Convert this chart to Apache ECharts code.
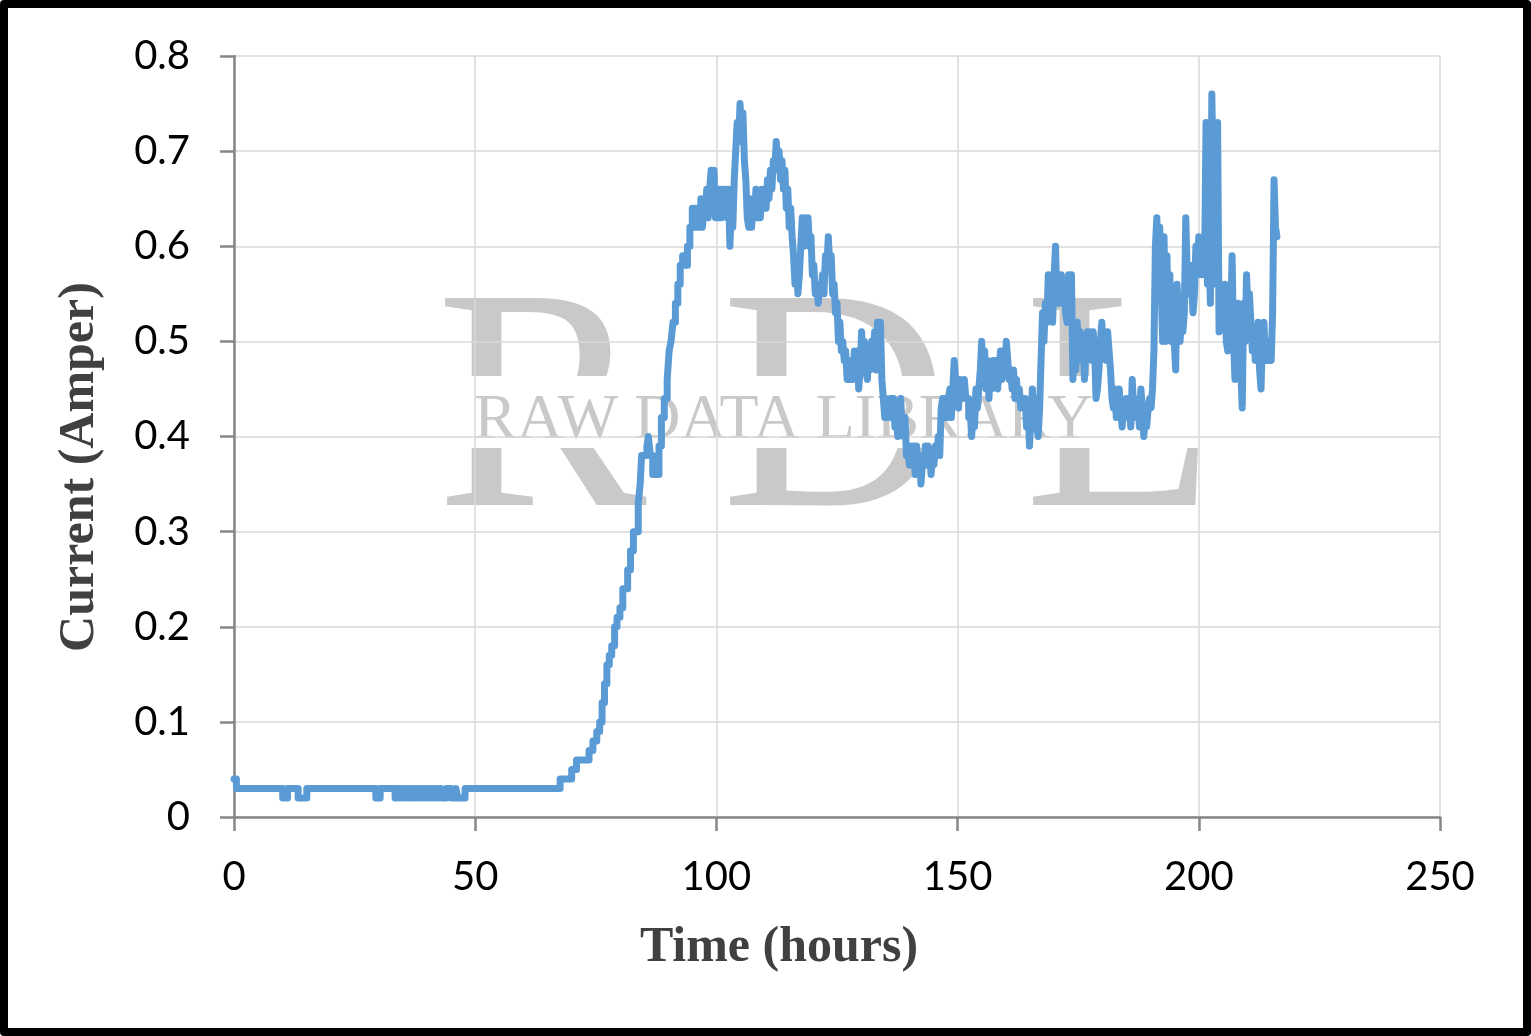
<!DOCTYPE html>
<html>
<head>
<meta charset="utf-8">
<script src="https://cdn.jsdelivr.net/npm/echarts@6/dist/echarts.min.js"></script>
<style>
html,body{margin:0;padding:0;background:#fff;}
#chart{position:absolute;left:0;top:0;width:1531px;height:1036px;}
#frame{position:absolute;left:0;top:0;width:1531px;height:1036px;box-sizing:border-box;border:8px solid #000;border-radius:4px;pointer-events:none;}
</style>
</head>
<body>
<div id="chart"></div>
<div id="frame"></div>
<script>
// ---- data ----
const xAxisTicks = [0, 50, 100, 150, 200, 250];
const yAxisTicks = [0, 0.1, 0.2, 0.3, 0.4, 0.5, 0.6, 0.7, 0.8];
const xTitle = 'Time (hours)';
const yTitle = 'Current (Amper)';

// early phase: baseline and rise (hours)
const timeEarly = [
  0, 0.5, 10.1, 11.1, 13.3, 15.1, 29.4, 30.3,
  33.4, 33.8, 34.1, 34.5, 34.8, 35.2, 35.5, 35.9, 36.2, 36.6, 36.9, 37.3, 37.6, 38.0,
  38.3, 38.7, 39.0, 39.4, 39.7, 40.1, 40.4, 40.8, 41.1, 41.5, 41.8, 42.2, 42.5, 42.9,
  43.2, 43.6, 44.0, 45.0, 46.0, 46.4, 47.9,
  67.6, 70.0, 71.0, 73.6, 74.4, 75.2, 75.8, 76.3, 76.8, 77.3, 77.8, 78.3, 78.9, 79.4,
  80.0, 80.6, 81.6, 82.2, 82.8, 83.8, 84.2, 84.5, 85.6, 85.9, 86.3, 86.8, 88.1,
  88.6, 89.2, 89.8, 90.2, 90.6, 91.0, 91.5, 92.0, 92.5, 93.0, 93.5, 94.0, 94.5
];
const currentEarly = [
  0.04, 0.03, 0.02, 0.03, 0.02, 0.03, 0.02, 0.03,
  0.02, 0.03, 0.02, 0.03, 0.02, 0.03, 0.02, 0.03, 0.02, 0.03, 0.02, 0.03, 0.02, 0.03,
  0.02, 0.03, 0.02, 0.03, 0.02, 0.03, 0.02, 0.03, 0.02, 0.03, 0.02, 0.03, 0.02, 0.03,
  0.02, 0.02, 0.03, 0.02, 0.03, 0.02, 0.03,
  0.04, 0.05, 0.06, 0.07, 0.08, 0.09, 0.10, 0.12, 0.14, 0.16, 0.17, 0.18, 0.20, 0.21,
  0.22, 0.24, 0.26, 0.28, 0.30, 0.33, 0.35, 0.38, 0.39, 0.40, 0.38, 0.36, 0.39,
  0.42, 0.44, 0.46, 0.49, 0.50, 0.52, 0.54, 0.56, 0.58, 0.59, 0.58, 0.60, 0.62
];

// noisy phase (hours), rows of 10 samples
const timeLate = [
  95.0, 95.3, 95.6, 95.9, 96.2, 96.5, 96.8, 97.1, 97.4, 97.7,
  98.0, 98.3, 98.6, 98.9, 99.2, 99.5, 99.8, 100.1, 100.4, 100.7,
  101.0, 101.3, 101.6, 101.9, 102.2, 102.5, 102.8, 103.1, 103.4, 103.7,
  104.0, 104.3, 104.6, 104.9, 105.2, 105.5, 105.8, 106.1, 106.4, 106.7,
  107.0, 107.3, 107.6, 107.9, 108.2, 108.5, 108.8, 109.1, 109.4, 109.7,
  110.0, 110.3, 110.6, 110.9, 111.2, 111.5, 111.8, 112.1, 112.4, 112.7,
  113.0, 113.3, 113.6, 113.9, 114.2, 114.5, 114.8, 115.1, 115.4, 115.7,
  116.0, 116.3, 116.6, 116.9, 117.2, 117.5, 117.8, 118.1, 118.4, 118.7,
  119.0, 119.3, 119.6, 119.9, 120.2, 120.5, 120.8, 121.1, 121.4, 121.7,
  122.0, 122.3, 122.6, 122.9, 123.2, 123.5, 123.8, 124.1, 124.4, 124.7,
  125.0, 125.3, 125.6, 125.9, 126.2, 126.5, 126.8, 127.1, 127.4, 127.7,
  128.0, 128.3, 128.6, 128.9, 129.2, 129.5, 129.8, 130.1, 130.4, 130.7,
  131.0, 131.3, 131.6, 131.9, 132.2, 132.5, 132.8, 133.1, 133.4, 133.7,
  134.0, 134.3, 134.6, 134.9, 135.2, 135.5, 135.8, 136.1, 136.4, 136.7,
  137.0, 137.3, 137.6, 137.9, 138.2, 138.5, 138.8, 139.1, 139.4, 139.7,
  140.0, 140.3, 140.6, 140.9, 141.2, 141.5, 141.8, 142.1, 142.4, 142.7,
  143.0, 143.3, 143.6, 143.9, 144.2, 144.5, 144.8, 145.1, 145.4, 145.7,
  146.0, 146.3, 146.6, 146.9, 147.2, 147.5, 147.8, 148.1, 148.4, 148.7,
  149.0, 149.3, 149.6, 149.9, 150.2, 150.5, 150.8, 151.1, 151.4, 151.7,
  152.0, 152.3, 152.6, 152.9, 153.2, 153.5, 153.8, 154.1, 154.4, 154.7,
  155.0, 155.3, 155.6, 155.9, 156.2, 156.5, 156.8, 157.1, 157.4, 157.7,
  158.0, 158.3, 158.6, 158.9, 159.2, 159.5, 159.8, 160.1, 160.4, 160.7,
  161.0, 161.3, 161.6, 161.9, 162.2, 162.5, 162.8, 163.1, 163.4, 163.7,
  164.0, 164.3, 164.6, 164.9, 165.2, 165.5, 165.8, 166.1, 166.4, 166.7,
  167.0, 167.3, 167.6, 167.9, 168.2, 168.5, 168.8, 169.1, 169.4, 169.7,
  170.0, 170.3, 170.6, 170.9, 171.2, 171.5, 171.8, 172.1, 172.4, 172.7,
  173.0, 173.3, 173.6, 173.9, 174.2, 174.5, 174.8, 175.1, 175.4, 175.7,
  176.0, 176.3, 176.6, 176.9, 177.2, 177.5, 177.8, 178.1, 178.4, 178.7,
  179.0, 179.3, 179.6, 179.9, 180.2, 180.5, 180.8, 181.1, 181.4, 181.7,
  182.0, 182.3, 182.6, 182.9, 183.2, 183.5, 183.8, 184.1, 184.4, 184.7,
  185.0, 185.3, 185.6, 185.9, 186.2, 186.5, 186.8, 187.1, 187.4, 187.7,
  188.0, 188.3, 188.6, 188.9, 189.2, 189.5, 189.8, 190.1, 190.4, 190.7,
  191.0, 191.3, 191.6, 191.9, 192.2, 192.5, 192.8, 193.1, 193.4, 193.7,
  194.0, 194.3, 194.6, 194.9, 195.2, 195.5, 195.8, 196.1, 196.4, 196.7,
  197.0, 197.3, 197.6, 197.9, 198.2, 198.5, 198.8, 199.1, 199.4, 199.7,
  200.0, 200.3, 200.6, 200.9, 201.2, 201.5, 201.8, 202.1, 202.4, 202.7,
  203.0, 203.3, 203.6, 203.9, 204.2, 204.5, 204.8, 205.1, 205.4, 205.7,
  206.0, 206.3, 206.6, 206.9, 207.2, 207.5, 207.8, 208.1, 208.4, 208.7,
  209.0, 209.3, 209.6, 209.9, 210.2, 210.5, 210.8, 211.1, 211.4, 211.7,
  212.0, 212.3, 212.6, 212.9, 213.2, 213.5, 213.8, 214.1, 214.4, 214.7,
  215.0, 215.3, 215.6, 215.9, 216.2
];
const currentLate = [
  0.64, 0.62, 0.64, 0.62, 0.64, 0.62, 0.65, 0.62, 0.64, 0.63,
  0.66, 0.63, 0.66, 0.68, 0.64, 0.68, 0.63, 0.66, 0.63, 0.66,
  0.63, 0.66, 0.64, 0.66, 0.63, 0.66, 0.60, 0.64, 0.62, 0.67,
  0.70, 0.73, 0.71, 0.75, 0.72, 0.74, 0.69, 0.67, 0.63, 0.62,
  0.65, 0.62, 0.65, 0.63, 0.66, 0.63, 0.65, 0.63, 0.66, 0.64,
  0.66, 0.64, 0.67, 0.65, 0.68, 0.66, 0.69, 0.68, 0.71, 0.69,
  0.70, 0.67, 0.69, 0.66, 0.68, 0.64, 0.66, 0.62, 0.64, 0.61,
  0.59, 0.56, 0.58, 0.55, 0.57, 0.60, 0.63, 0.60, 0.63, 0.61,
  0.63, 0.60, 0.61, 0.57, 0.58, 0.55, 0.56, 0.54, 0.56, 0.55,
  0.57, 0.55, 0.59, 0.58, 0.61, 0.58, 0.59, 0.55, 0.56, 0.53,
  0.54, 0.50, 0.52, 0.49, 0.50, 0.48, 0.49, 0.46, 0.48, 0.46,
  0.48, 0.46, 0.49, 0.47, 0.49, 0.45, 0.47, 0.51, 0.48, 0.50,
  0.47, 0.46, 0.49, 0.47, 0.50, 0.48, 0.51, 0.47, 0.52, 0.48,
  0.52, 0.46, 0.44, 0.42, 0.44, 0.42, 0.43, 0.44, 0.42, 0.44,
  0.41, 0.42, 0.40, 0.43, 0.44, 0.41, 0.40, 0.42, 0.38, 0.39,
  0.37, 0.39, 0.37, 0.39, 0.36, 0.39, 0.37, 0.38, 0.35, 0.37,
  0.37, 0.39, 0.37, 0.39, 0.38, 0.36, 0.38, 0.37, 0.39, 0.38,
  0.40, 0.38, 0.43, 0.44, 0.42, 0.44, 0.42, 0.44, 0.45, 0.42,
  0.45, 0.48, 0.46, 0.45, 0.43, 0.46, 0.44, 0.45, 0.46, 0.44,
  0.44, 0.42, 0.43, 0.40, 0.42, 0.41, 0.45, 0.43, 0.45, 0.47,
  0.50, 0.47, 0.49, 0.45, 0.48, 0.44, 0.47, 0.45, 0.48, 0.46,
  0.48, 0.45, 0.47, 0.49, 0.46, 0.49, 0.47, 0.50, 0.48, 0.46,
  0.47, 0.45, 0.47, 0.44, 0.46, 0.44, 0.45, 0.43, 0.44, 0.43,
  0.44, 0.41, 0.43, 0.39, 0.42, 0.45, 0.42, 0.44, 0.41, 0.40,
  0.43, 0.48, 0.53, 0.50, 0.54, 0.52, 0.57, 0.53, 0.55, 0.52,
  0.57, 0.60, 0.54, 0.57, 0.54, 0.57, 0.55, 0.56, 0.53, 0.52,
  0.57, 0.55, 0.57, 0.46, 0.50, 0.47, 0.52, 0.48, 0.51, 0.49,
  0.50, 0.46, 0.49, 0.51, 0.49, 0.51, 0.48, 0.51, 0.49, 0.44,
  0.45, 0.47, 0.50, 0.52, 0.49, 0.51, 0.48, 0.51, 0.49, 0.47,
  0.44, 0.43, 0.45, 0.42, 0.44, 0.45, 0.43, 0.41, 0.43, 0.42,
  0.44, 0.42, 0.43, 0.41, 0.46, 0.43, 0.44, 0.42, 0.43, 0.41,
  0.45, 0.43, 0.40, 0.42, 0.41, 0.43, 0.44, 0.43, 0.45, 0.49,
  0.60, 0.63, 0.58, 0.62, 0.56, 0.50, 0.61, 0.50, 0.59, 0.51,
  0.57, 0.50, 0.53, 0.50, 0.47, 0.56, 0.53, 0.50, 0.52, 0.51,
  0.53, 0.63, 0.57, 0.55, 0.58, 0.56, 0.53, 0.55, 0.60, 0.57,
  0.61, 0.58, 0.57, 0.60, 0.58, 0.73, 0.56, 0.60, 0.54, 0.76,
  0.66, 0.73, 0.56, 0.73, 0.51, 0.55, 0.52, 0.55, 0.56, 0.50,
  0.49, 0.53, 0.52, 0.59, 0.50, 0.46, 0.51, 0.54, 0.48, 0.47,
  0.43, 0.54, 0.50, 0.57, 0.53, 0.55, 0.52, 0.49, 0.51, 0.48,
  0.50, 0.52, 0.47, 0.45, 0.51, 0.52, 0.48, 0.50, 0.48, 0.50,
  0.48, 0.53, 0.67, 0.62, 0.61
];

const timeHours = timeEarly.concat(timeLate);
const currentAmp = currentEarly.concat(currentLate);
const seriesData = timeHours.map((t, i) => [t, currentAmp[i]]);

// ---- chart ----
const chart = echarts.init(document.getElementById('chart'), null, {renderer: 'canvas'});
const labelFont = 'Lato, "Open Sans", sans-serif';
const titleFont = '"Liberation Serif", "DejaVu Serif", serif';
const wmColor = '#C9C9C9';

const option = {
  backgroundColor: '#ffffff',
  animation: false,
  grid: {left: 234, right: 91, top: 56, bottom: 219, containLabel: false},
  xAxis: {
    type: 'value',
    min: xAxisTicks[0], max: xAxisTicks[xAxisTicks.length - 1], interval: 50,
    axisLine: {show: true, lineStyle: {color: '#868686', width: 2.5}},
    axisTick: {show: true, length: 14, lineStyle: {color: '#868686', width: 2.5}},
    splitLine: {show: true, lineStyle: {color: '#D9D9D9', width: 1.5}},
    axisLabel: {color: '#000', fontFamily: labelFont, fontSize: 40, margin: 40}
  },
  yAxis: {
    type: 'value',
    min: yAxisTicks[0], max: yAxisTicks[yAxisTicks.length - 1], interval: 0.1,
    axisLine: {show: true, lineStyle: {color: '#868686', width: 2.5}},
    axisTick: {show: true, length: 14, lineStyle: {color: '#868686', width: 2.5}},
    splitLine: {show: true, lineStyle: {color: '#D9D9D9', width: 1.5}},
    axisLabel: {color: '#000', fontFamily: labelFont, fontSize: 40, margin: 44,
      formatter: v => (Math.round(v * 10) / 10).toString()}
  },
  graphic: [
    // watermark (behind everything)
    {type: 'text', z: -10, left: 436, top: 422 - 158, style: {text: 'R', fill: wmColor, font: '316px ' + titleFont}},
    {type: 'text', z: -10, left: 721, top: 422 - 158, style: {text: 'D', fill: wmColor, font: '316px ' + titleFont}},
    {type: 'text', z: -10, left: 1024, top: 422 - 158, style: {text: 'L', fill: wmColor, font: '316px ' + titleFont}},
    {type: 'rect', z: -9, shape: {x: 430, y: 376, width: 800, height: 72}, style: {fill: '#ffffff'}},
    {type: 'text', z: -8, left: 474, top: 421 - 32, style: {text: 'RAW DATA LIBRARY', fill: wmColor, font: '64px ' + titleFont}},
    // axis titles
    {type: 'text', x: 779, y: 948, style: {text: xTitle, fill: '#404040', font: 'bold 50px ' + titleFont, align: 'center', verticalAlign: 'middle'}},
    {type: 'text', x: 80, y: 467, rotation: Math.PI / 2,
      style: {text: yTitle, fill: '#404040', font: 'bold 50px ' + titleFont, align: 'center', verticalAlign: 'middle'}}
  ],
  series: [{
    type: 'line',
    data: seriesData,
    step: 'end',
    showSymbol: false,
    symbol: 'none',
    color: '#5B9BD5',
    lineStyle: {color: '#5B9BD5', width: 7, join: 'round', cap: 'round'},
    z: 5
  }]
};
chart.setOption(option);
</script>
</body>
</html>
